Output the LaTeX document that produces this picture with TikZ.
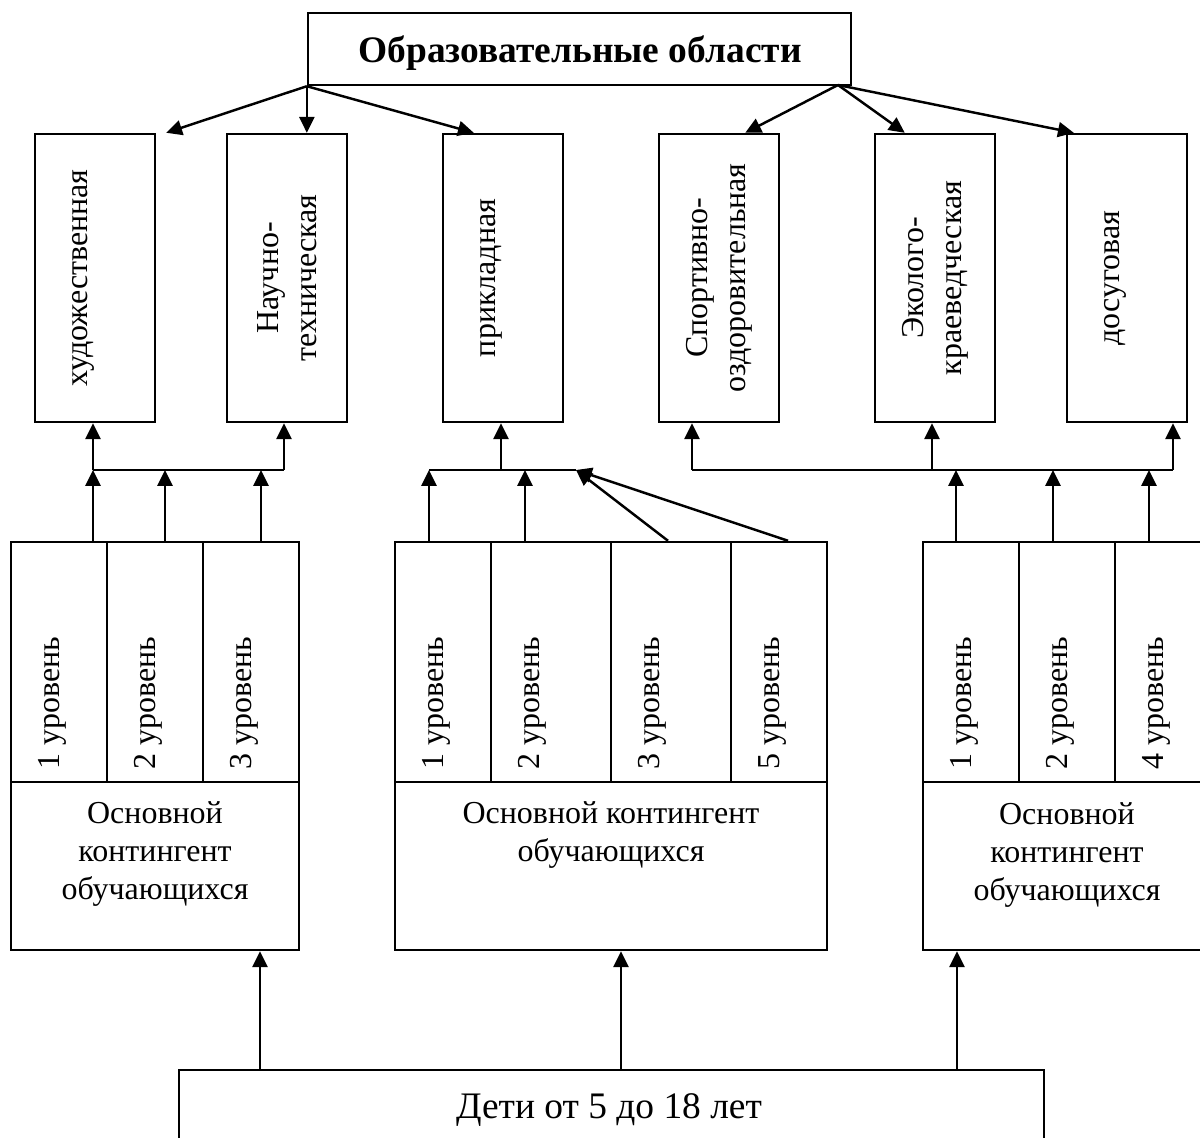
\documentclass[tikz,border=0pt]{standalone}
\usepackage{fontspec}
\setmainfont{Liberation Serif}
\usetikzlibrary{arrows.meta}
\begin{document}
\begin{tikzpicture}[x=0.02cm,y=-0.02cm,
  ln/.style={line width=1.4pt},
  arr/.style={ln,-{Triangle[length=9pt,width=8.5pt]}},
  boxn/.style={draw,ln,inner sep=0pt},
  areabox/.style={boxn,minimum width=2.4cm,minimum height=5.76cm},
  cellnarrow/.style={boxn,minimum width=1.92cm,minimum height=4.8cm},
  cellwide/.style={boxn,minimum width=2.4cm,minimum height=4.8cm},
  basebox/.style={boxn,minimum height=3.36cm},
  txt/.style={inner sep=0pt,font=\fontsize{18.2}{21.6}\selectfont},
  bigtxt/.style={inner sep=0pt,font=\fontsize{21.3}{25}\selectfont},
  vtxt/.style={txt,rotate=90},
  lvl/.style={vtxt,anchor=base west}]
\useasboundingbox (0,0) rectangle (1200,1138);
\clip (0,0) rectangle (1200,1138);

% title
\node[boxn,minimum width=10.86cm,minimum height=1.44cm] (tbox) at (579.5,49) {};
\node[bigtxt,font=\bfseries\fontsize{21.3}{25}\selectfont,anchor=base] (ttext) at (580,63) {Образовательные области};

% area boxes
\node[areabox] (hud) at (95,278) {};
\node[areabox] (nauch) at (287,278) {};
\node[areabox] (prik) at (503,278) {};
\node[areabox] (sport) at (719,278) {};
\node[areabox] (eko) at (935,278) {};
\node[areabox] (dos) at (1127,278) {};
\node[vtxt,anchor=base] (hudt) at (87,278) {художественная};
\node[vtxt,align=center] (naucht) at (287,278) {Научно-\\техническая};
\node[vtxt,anchor=base] (prikt) at (495,278) {прикладная};
\node[vtxt,align=center] (sportt) at (719,278) {Спортивно-\\оздоровительная};
\node[vtxt,align=center] (ekot) at (935,278) {Эколого-\\краеведческая};
\node[vtxt,anchor=base] (dost) at (1119,278) {досуговая};

% left group
\node[cellnarrow] (L1) at (59,662) {};
\node[cellnarrow] (L2) at (155,662) {};
\node[cellnarrow] (L3) at (251,662) {};
\node[basebox,minimum width=5.76cm] (LB) at (155,866) {};
\node[lvl] (L1t) at (59,770) {1 уровень};
\node[lvl] (L2t) at (155,770) {2 уровень};
\node[lvl] (L3t) at (251,770) {3 уровень};
\node[txt,align=center,anchor=north] (LBt) at (155,801) {Основной\\контингент\\обучающихся};

% middle group
\node[cellnarrow] (M1) at (443,662) {};
\node[cellwide] (M2) at (551,662) {};
\node[cellwide] (M3) at (671,662) {};
\node[cellnarrow] (M4) at (779,662) {};
\node[basebox,minimum width=8.64cm] (MB) at (611,866) {};
\node[lvl] (M1t) at (443,770) {1 уровень};
\node[lvl] (M2t) at (539,770) {2 уровень};
\node[lvl] (M3t) at (659,770) {3 уровень};
\node[lvl] (M4t) at (779,770) {5 уровень};
\node[txt,align=center,anchor=north] (MBt) at (611,801) {Основной контингент\\обучающихся};

% right group
\node[cellnarrow] (R1) at (971,662) {};
\node[cellnarrow] (R2) at (1067,662) {};
\node[cellnarrow] (R3) at (1163,662) {};
\node[basebox,minimum width=5.76cm] (RB) at (1067,866) {};
\node[lvl] (R1t) at (971,770) {1 уровень};
\node[lvl] (R2t) at (1067,770) {2 уровень};
\node[lvl] (R3t) at (1163,770) {4 уровень};
\node[txt,align=center,anchor=north] (RBt) at (1067,802) {Основной\\контингент\\обучающихся};

% bottom box
\node[boxn,minimum width=17.3cm,minimum height=1.44cm] (deti) at (611.5,1106) {};
\node[bigtxt,anchor=base] (detit) at (609,1118) {Дети от 5 до 18 лет};

% top arrows
\coordinate (tr) at (838,85);
\draw[arr] (tbox.south west) -- ([xshift=0.2cm]hud.north east);
\draw[arr] (tbox.south west) -- (nauch.north -| tbox.south west);
\draw[arr] (tbox.south west) -- ([xshift=0.64cm]prik.north west);
\draw[arr] (tr) -- ([xshift=-0.7cm]sport.north east);
\draw[arr] (tr) -- ([xshift=0.62cm]eko.north west);
\draw[arr] (tr) -- ([xshift=0.16cm]dos.north west);

% left junction
\coordinate (a1) at (93,470);
\coordinate (a2) at (165,470);
\coordinate (a3) at (261,470);
\coordinate (a4) at (284,470);
\draw[ln] (a1) -- (a4);
\draw[arr] (a1) -- (hud.south -| a1);
\draw[arr] (a4) -- (nauch.south -| a4);
\draw[arr] (L1.north -| a1) -- (a1);
\draw[arr] (L2.north -| a2) -- (a2);
\draw[arr] (L3.north -| a3) -- (a3);

% middle junction
\coordinate (m1) at (429,470);
\coordinate (mp) at (501,470);
\coordinate (m2) at (525,470);
\coordinate (mt) at (576,470);
\coordinate (d1) at (668,470);
\coordinate (d2) at (788,470);
\draw[ln] (m1) -- (mt);
\draw[arr] (mp) -- (prik.south -| mp);
\draw[arr] (M1.north -| m1) -- (m1);
\draw[arr] (M2.north -| m2) -- (m2);
\draw[arr] (M3.north -| d1) -- (mt);
\draw[arr] (M4.north -| d2) -- (mt);

% right junction
\coordinate (r1) at (692,470);
\coordinate (r2) at (932,470);
\coordinate (r3) at (1173,470);
\coordinate (ra) at (956,470);
\coordinate (rb) at (1053,470);
\coordinate (rc) at (1149,470);
\draw[ln] (r1) -- (r3);
\draw[arr] (r1) -- (sport.south -| r1);
\draw[arr] (r2) -- (eko.south -| r2);
\draw[arr] (r3) -- (dos.south -| r3);
\draw[arr] (R1.north -| ra) -- (ra);
\draw[arr] (R2.north -| rb) -- (rb);
\draw[arr] (R3.north -| rc) -- (rc);

% bottom arrows
\coordinate (b1) at (260,1000);
\coordinate (b2) at (621,1000);
\coordinate (b3) at (957,1000);
\draw[arr] (deti.north -| b1) -- (LB.south -| b1);
\draw[arr] (deti.north -| b2) -- (MB.south -| b2);
\draw[arr] (deti.north -| b3) -- (RB.south -| b3);
\end{tikzpicture}
\end{document}
